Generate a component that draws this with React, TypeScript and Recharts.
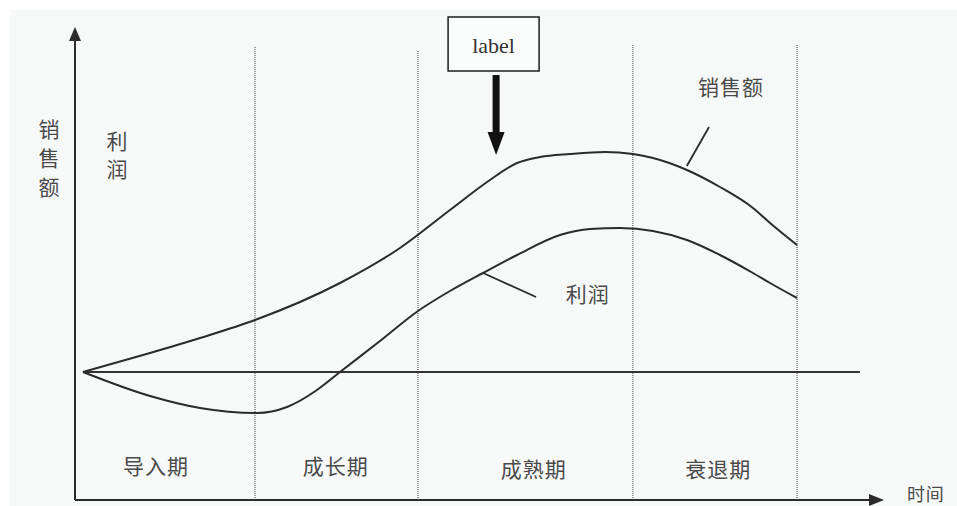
import React from 'react';
import { ComposedChart, Line, XAxis, YAxis, ReferenceLine, ReferenceDot } from 'recharts';

// time axis 0..100, value axis -32..85.5
const salesTime = [0.99, 9.32, 15.53, 22.36, 32.92, 40.37, 46.58, 51.55, 54.91, 57.76, 61.49, 65.84, 69.32, 71.8, 76.02, 80.12, 84.22, 86.34, 89.69];
const salesValues = [0, 4.75, 8.5, 13, 22.25, 31, 40.5, 48, 52.25, 53.75, 54.5, 55, 54.5, 53.5, 50.5, 46.25, 41, 37.25, 31.75];

const profitTime = [0.99, 9.32, 15.53, 22.61, 26.34, 30.06, 32.92, 37.89, 42.61, 46.58, 50.68, 54.91, 60.25, 63.98, 67.7, 71.8, 76.02, 80.12, 84.22, 86.34, 89.69];
const profitValues = [0, -6, -9, -10.25, -8.75, -4.5, 0, 7.75, 15.25, 20.25, 24.75, 29.25, 34.25, 35.75, 36, 35.25, 33, 29.25, 24.75, 22.25, 18.5];

const stageBounds = [22.36, 42.6, 69.3, 89.7];
const stageTops = [81.5, 80.5, 82, 82];
const stageLabels = ['导入期', '成长期', '成熟期', '衰退期'];
const stageLabelTime = [10.06, 32.4, 57.0, 79.9];
const stageLabelValue = [-23.25, -23.25, -24, -24];

const salesData = salesTime.map((t, i) => ({ t, v: salesValues[i] }));
const profitData = profitTime.map((t, i) => ({ t, v: profitValues[i] }));

const X_MIN = 0;
const X_MAX = 100;
const Y_MIN = -32;
const Y_MAX = 85.5;

const CJK = '"Noto Sans CJK SC", "Noto Sans", sans-serif';
const TEXT = '#4a4a4a';
const INK = '#2b2b2b';

const textShape = (label: string, size = 21, vertical = false, gap = 28) => (p: any) => {
  const { cx, cy } = p;
  if (vertical) {
    const chars = label.split('');
    const start = cy - ((chars.length - 1) * gap) / 2;
    return (
      <g>
        {chars.map((c, i) => (
          <text key={i} x={cx} y={start + i * gap} textAnchor="middle" dominantBaseline="central"
            fontFamily={CJK} fontSize={size} fill={TEXT}>{c}</text>
        ))}
      </g>
    );
  }
  return (
    <text x={cx} y={cy} textAnchor="middle" dominantBaseline="central" fontFamily={CJK}
      fontSize={size} fill={TEXT} letterSpacing={1}>{label}</text>
  );
};

const labelBox = (p: any) => {
  const { cx, cy } = p;
  const ax = cx + 2.5;
  return (
    <g>
      <rect x={cx - 45.5} y={cy - 27} width={91} height={54} fill="#fbfcfc" stroke={INK} strokeWidth={1.6} />
      <text x={cx} y={cy + 1} textAnchor="middle" dominantBaseline="central"
        fontFamily='"Liberation Serif", "DejaVu Serif", serif' fontSize={22} fill="#333">label</text>
      <rect x={ax - 3.5} y={cy + 31} width={7} height={59} fill="#111" />
      <polygon points={`${ax - 8.5},${cy + 88} ${ax + 8.5},${cy + 88} ${ax},${cy + 111}`} fill="#111" />
    </g>
  );
};

const yArrow = (p: any) => {
  const { cx, cy } = p;
  return <polygon points={`${cx - 6},${cy + 11} ${cx + 6},${cy + 11} ${cx},${cy - 3}`} fill={INK} />;
};

const xArrow = (p: any) => {
  const { cx, cy } = p;
  return <polygon points={`${cx - 11},${cy - 6} ${cx - 11},${cy + 6} ${cx + 4},${cy}`} fill={INK} />;
};

export default function App() {
  return (
    <div style={{ position: 'absolute', left: 0, top: 0, width: 957, height: 506, background: '#ffffff', overflow: 'hidden' }}>
      <div style={{ position: 'absolute', left: 10, top: 10, width: 947, height: 496, background: '#f7f9f9' }} />
      <div style={{ position: 'absolute', left: 0, top: 0 }}>
        <ComposedChart width={957} height={506} margin={{ top: 30, right: 77, bottom: 6, left: 75 }}>
          <XAxis type="number" dataKey="t" domain={[X_MIN, X_MAX]} allowDataOverflow hide />
          <YAxis type="number" dataKey="v" domain={[Y_MIN, Y_MAX]} allowDataOverflow hide />

          {stageBounds.map((b, i) => (
            <ReferenceLine key={'s' + i} segment={[{ x: b, y: Y_MIN }, { x: b, y: stageTops[i] }]}
              stroke="#7d7d7d" strokeWidth={1.5} strokeDasharray="1 1" ifOverflow="visible" />
          ))}

          {/* axes */}
          <ReferenceLine segment={[{ x: X_MIN, y: Y_MIN }, { x: X_MIN, y: Y_MAX - 2 }]} stroke={INK} strokeWidth={2} ifOverflow="visible" />
          <ReferenceLine segment={[{ x: X_MIN, y: Y_MIN }, { x: X_MAX - 0.5, y: Y_MIN }]} stroke={INK} strokeWidth={2} ifOverflow="visible" />
          <ReferenceDot x={X_MIN} y={Y_MAX} r={0} shape={yArrow} ifOverflow="visible" />
          <ReferenceDot x={X_MAX} y={Y_MIN} r={0} shape={xArrow} ifOverflow="visible" />

          {/* zero line */}
          <ReferenceLine segment={[{ x: 0.99, y: 0 }, { x: 97.5, y: 0 }]} stroke="#333" strokeWidth={2} ifOverflow="visible" />

          <Line data={salesData} dataKey="v" type="monotone" stroke={INK} strokeWidth={2}
            dot={false} activeDot={false} isAnimationActive={false} />
          <Line data={profitData} dataKey="v" type="monotone" stroke={INK} strokeWidth={2}
            dot={false} activeDot={false} isAnimationActive={false} />

          {/* callout lines */}
          <ReferenceLine segment={[{ x: 78.76, y: 61.25 }, { x: 76.0, y: 51.5 }]} stroke={INK} strokeWidth={1.8} ifOverflow="visible" />
          <ReferenceLine segment={[{ x: 50.7, y: 24.75 }, { x: 57.27, y: 18.75 }]} stroke={INK} strokeWidth={1.8} ifOverflow="visible" />

          <ReferenceDot x={81.5} y={71.5} r={0} shape={textShape('销售额', 21)} ifOverflow="visible" />
          <ReferenceDot x={63.7} y={19.75} r={0} shape={textShape('利润', 21)} ifOverflow="visible" />
          <ReferenceDot x={-3.23} y={53.75} r={0} shape={textShape('销售额', 21, true, 29)} ifOverflow="visible" />
          <ReferenceDot x={5.22} y={54.5} r={0} shape={textShape('利润', 21, true, 28)} ifOverflow="visible" />
          <ReferenceDot x={105.7} y={-30.25} r={0} shape={textShape('时间', 18)} ifOverflow="visible" />

          {stageLabels.map((s, i) => (
            <ReferenceDot key={'l' + i} x={stageLabelTime[i]} y={stageLabelValue[i]} r={0}
              shape={textShape(s, 21)} ifOverflow="visible" />
          ))}

          <ReferenceDot x={52.0} y={82} r={0} shape={labelBox} ifOverflow="visible" />
        </ComposedChart>
      </div>
    </div>
  );
}
